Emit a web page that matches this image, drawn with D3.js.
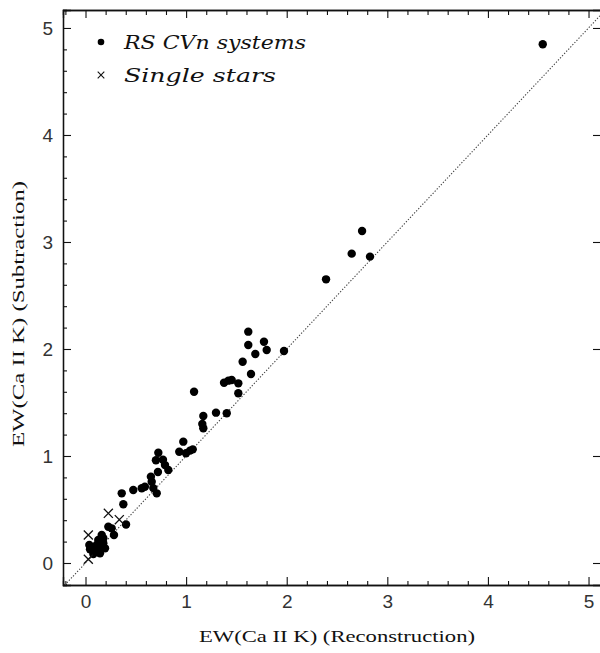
<!DOCTYPE html>
<html><head><meta charset="utf-8">
<script src="https://cdn.jsdelivr.net/npm/d3@7"></script>
<style>body{margin:0;background:#fff}svg{display:block}</style>
</head><body><svg id="c" width="600" height="653"></svg>
<script>
// RS CVn systems: [EW reconstruction, EW subtraction]
const rscvnX = [4.545,2.749,2.646,2.828,2.391,1.973,1.618,1.618,1.774,1.801,1.688,1.562,1.645,1.377,1.42,1.453,1.519,1.519,1.079,1.171,1.297,1.404,1.161,1.171,0.972,0.932,0.999,1.066,1.039,0.724,0.70,0.77,0.79,0.72,0.823,0.65,0.658,0.674,0.59,0.559,0.708,0.475,0.36,0.376,0.403,0.227,0.26,0.283,0.161,0.177,0.127,0.111,0.177,0.144,0.194,0.078,0.045,0.144,0.078,0.038];
const rscvnY = [4.848,3.103,2.891,2.863,2.651,1.981,2.162,2.037,2.068,1.991,1.953,1.881,1.766,1.685,1.704,1.710,1.679,1.586,1.601,1.374,1.405,1.399,1.299,1.259,1.134,1.040,1.025,1.062,1.05,1.031,0.96,0.965,0.915,0.85,0.869,0.807,0.760,0.70,0.713,0.698,0.651,0.682,0.651,0.549,0.36,0.339,0.324,0.262,0.262,0.231,0.215,0.168,0.184,0.137,0.137,0.121,0.128,0.09,0.084,0.168];
// Single stars
const singleX = [0.028,0.227,0.336,0.028];
const singleY = [0.262,0.464,0.405,0.035];
const majorTicks = [0,1,2,3,4,5];
const legendLabels = ["RS CVn systems","Single stars"];
const xTitle = "EW(Ca II K) (Reconstruction)";
const yTitle = "EW(Ca II K) (Subtraction)";

const L=63,R=601,T=10,B=585;
const x = d3.scaleLinear().domain([-0.2237,5.124]).range([L,R]);
const y = d3.scaleLinear().domain([-0.2056,5.168]).range([B,T]);
const svg = d3.select("#c");
const minor = d3.range(-0.2,5.21,0.2).map(v=>+v.toFixed(1)).filter(v=>!majorTicks.includes(v));
const minorX = minor.filter(v=>v>=x.domain()[0]&&v<=x.domain()[1]);
const minorY = minor.filter(v=>v>=y.domain()[0]&&v<=y.domain()[1]);

function styleAxis(g){g.select(".domain").attr("stroke","#111").attr("stroke-width",1.3);
 g.selectAll(".tick line").attr("stroke","#111").attr("stroke-width",1.1);
 g.selectAll("text").attr("font-family","'Liberation Sans',Arial,sans-serif").attr("font-size",19).attr("fill","#333");}

svg.append("g").attr("transform",`translate(0,${B})`).call(d3.axisBottom(x).tickValues(majorTicks).tickSize(-8).tickPadding(10).tickFormat(d3.format("d"))).call(styleAxis);
svg.append("g").attr("transform",`translate(0,${B})`).call(d3.axisBottom(x).tickValues(minorX).tickSize(-4).tickFormat("")).call(styleAxis);
svg.append("g").attr("transform",`translate(${L},0)`).call(d3.axisLeft(y).tickValues(majorTicks).tickSize(-8).tickPadding(10).tickFormat(d3.format("d"))).call(styleAxis);
svg.append("g").attr("transform",`translate(${L},0)`).call(d3.axisLeft(y).tickValues(minorY).tickSize(-4).tickFormat("")).call(styleAxis);
svg.append("g").attr("transform",`translate(0,${T})`).call(d3.axisTop(x).tickValues(majorTicks).tickSize(-8).tickFormat("")).call(styleAxis);
svg.append("g").attr("transform",`translate(0,${T})`).call(d3.axisTop(x).tickValues(minorX).tickSize(-5).tickFormat("")).call(styleAxis);
svg.append("g").attr("transform",`translate(${R},0)`).call(d3.axisRight(y).tickValues(majorTicks).tickSize(-8).tickFormat("")).call(styleAxis);

// diagonal y = x
svg.append("clipPath").attr("id","clip").append("rect").attr("x",L).attr("y",T).attr("width",R-L).attr("height",B-T);
const lo = Math.max(x.domain()[0],y.domain()[0]), hi = Math.min(x.domain()[1],y.domain()[1]);
svg.append("line").attr("clip-path","url(#clip)")
 .attr("x1",x(lo)).attr("y1",y(lo)).attr("x2",x(hi)).attr("y2",y(hi))
 .attr("stroke","#444").attr("stroke-width",1.1).attr("stroke-dasharray","1.3,1.7");

const pts = rscvnX.map((v,i)=>[v,rscvnY[i]]);
svg.append("g").selectAll("circle").data(pts).join("circle")
 .attr("cx",d=>x(d[0])).attr("cy",d=>y(d[1])).attr("r",4.2).attr("fill","#000");
const spts = singleX.map((v,i)=>[v,singleY[i]]);
const cross = d3.symbol().type(d3.symbolX).size(55);
svg.append("g").selectAll("path").data(spts).join("path")
 .attr("transform",d=>`translate(${x(d[0])},${y(d[1])})`).attr("d",cross)
 .attr("fill","none").attr("stroke","#111").attr("stroke-width",1.3);

// legend
const lg = svg.append("g");
lg.append("circle").attr("cx",101).attr("cy",42).attr("r",3.3).attr("fill","#000");
lg.append("path").attr("transform","translate(101,75)").attr("d",d3.symbol().type(d3.symbolX).size(30)).attr("fill","none").attr("stroke","#111").attr("stroke-width",1.1);
lg.selectAll("text").data(legendLabels).join("text")
 .attr("x",124).attr("y",(d,i)=>49+i*33).text(d=>d)
 .attr("font-family","'DejaVu Serif',serif").attr("font-style","italic").attr("font-size",19).attr("fill","#111")
 .attr("textLength",(d,i)=>i===0?182:152).attr("lengthAdjust","spacingAndGlyphs");

svg.append("text").attr("x",337).attr("y",642).attr("text-anchor","middle").text(xTitle)
 .attr("font-family","'Liberation Serif',serif").attr("font-size",17).attr("fill","#111")
 .attr("textLength",276).attr("lengthAdjust","spacingAndGlyphs");
svg.append("text").attr("transform","translate(24,314) rotate(-90)").attr("text-anchor","middle").text(yTitle)
 .attr("font-family","'Liberation Serif',serif").attr("font-size",17).attr("fill","#111")
 .attr("textLength",266).attr("lengthAdjust","spacingAndGlyphs");
</script></body></html>
